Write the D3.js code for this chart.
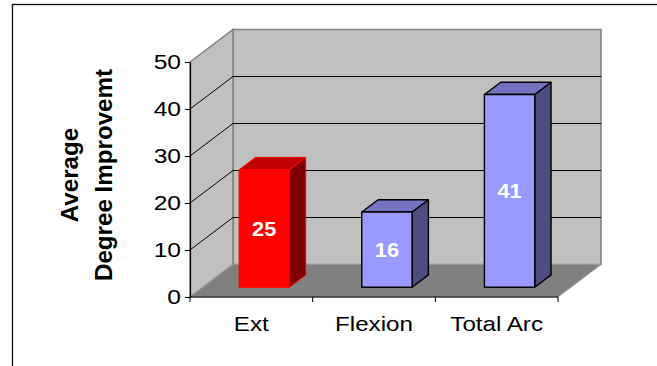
<!DOCTYPE html>
<html>
<head>
<meta charset="utf-8">
<script src="https://cdn.jsdelivr.net/npm/d3@7"></script>
<style>
  html, body { margin: 0; padding: 0; background: #fff; }
  svg { display: block; }
  text { font-family: "Liberation Sans", Arial, sans-serif; }
</style>
</head>
<body>
<svg id="chart" width="657" height="366"></svg>
<script>
// Chart data
const categories = ["Ext", "Flexion", "Total Arc"];
const values = [25, 16, 41];
const yTicks = [0, 10, 20, 30, 40, 50];
const titleLines = ["Average", "Degree Improvemt"];

// Face colours per bar: [front, top, side, outline]
const barFaces = [
  ["#ff0000", "#c00000", "#800000", "#ff0000"],
  ["#9999ff", "#7373bf", "#4d4d80", "#000000"],
  ["#9999ff", "#7373bf", "#4d4d80", "#000000"]
];

const svg = d3.select("#chart");

// Front plane of the plot and the depth of the 3-D box
const plot = { left: 190, right: 558, top: 62, bottom: 297 };
const DX = 43, DY = 32.5;

const x = d3.scaleBand().domain(categories).range([plot.left, plot.right]).padding(0);
const y = d3.scaleLinear().domain([0, 50]).range([plot.bottom, plot.top]);

// Oblique projection: z = 0 is the front plane, z = 1 the back wall
const PX = (px, z) => px + z * DX;
const PY = (v, z) => y(v) - z * DY;
const pts = arr => arr.map(p => p.join(",")).join(" ");

// Outer chart frame
svg.append("rect")
  .attr("x", 12.5).attr("y", 4.5)
  .attr("width", 700).attr("height", 400)
  .attr("fill", "none").attr("stroke", "#111").attr("stroke-width", 1.3);

const yMax = y.domain()[1], yMin = y.domain()[0];

// Back wall
svg.append("polygon")
  .attr("points", pts([
    [PX(plot.left, 1), PY(yMax, 1)], [PX(plot.right, 1), PY(yMax, 1)],
    [PX(plot.right, 1), PY(yMin, 1)], [PX(plot.left, 1), PY(yMin, 1)]
  ]))
  .attr("fill", "#c0c0c0").attr("stroke", "#808080").attr("stroke-width", 1.5);

// Side wall
svg.append("polygon")
  .attr("points", pts([
    [plot.left, PY(yMax, 0)], [PX(plot.left, 1), PY(yMax, 1)],
    [PX(plot.left, 1), PY(yMin, 1)], [plot.left, PY(yMin, 0)]
  ]))
  .attr("fill", "#c0c0c0").attr("stroke", "#808080").attr("stroke-width", 1.5);

// Floor
svg.append("polygon")
  .attr("points", pts([
    [plot.left, PY(yMin, 0)], [plot.right, PY(yMin, 0)],
    [PX(plot.right, 1), PY(yMin, 1)], [PX(plot.left, 1), PY(yMin, 1)]
  ]))
  .attr("fill", "#808080").attr("stroke", "#9a9a9a").attr("stroke-width", 1);

// Gridlines wrapping side wall and back wall
svg.append("g").selectAll("polyline")
  .data(yTicks.filter(t => t > yMin && t < yMax))
  .join("polyline")
  .attr("points", t => pts([
    [plot.left, PY(t, 0)], [PX(plot.left, 1), PY(t, 1)], [PX(plot.right, 1), PY(t, 1)]
  ]))
  .attr("fill", "none").attr("stroke", "#000").attr("stroke-width", 1);

// Bars
const z0 = 0.3, z1 = 0.68;
const barW = x.bandwidth() * 0.41;
const bars = svg.append("g").selectAll("g")
  .data(categories.map((c, i) => ({ c, v: values[i], f: barFaces[i] })))
  .join("g");

bars.each(function (d) {
  const g = d3.select(this);
  const xl = x(d.c) + (x.bandwidth() - barW) / 2;
  const xr = xl + barW;
  const sw = d.f[3] === "#000000" ? 1.4 : 1;
  // side
  g.append("polygon")
    .attr("points", pts([
      [PX(xr, z0), PY(d.v, z0)], [PX(xr, z1), PY(d.v, z1)],
      [PX(xr, z1), PY(0, z1)], [PX(xr, z0), PY(0, z0)]
    ]))
    .attr("fill", d.f[2]).attr("stroke", d.f[3]).attr("stroke-width", sw)
    .attr("stroke-linejoin", "round");
  // top
  g.append("polygon")
    .attr("points", pts([
      [PX(xl, z0), PY(d.v, z0)], [PX(xr, z0), PY(d.v, z0)],
      [PX(xr, z1), PY(d.v, z1)], [PX(xl, z1), PY(d.v, z1)]
    ]))
    .attr("fill", d.f[1]).attr("stroke", d.f[3]).attr("stroke-width", sw)
    .attr("stroke-linejoin", "round");
  // front
  g.append("polygon")
    .attr("points", pts([
      [PX(xl, z0), PY(d.v, z0)], [PX(xr, z0), PY(d.v, z0)],
      [PX(xr, z0), PY(0, z0)], [PX(xl, z0), PY(0, z0)]
    ]))
    .attr("fill", d.f[0]).attr("stroke", d.f[3]).attr("stroke-width", sw)
    .attr("stroke-linejoin", "round");
  // value label
  g.append("text")
    .attr("transform", `translate(${PX((xl + xr) / 2, z0)},${(PY(d.v, z0) + PY(0, z0)) / 2}) scale(1.12,1)`)
    .attr("text-anchor", "middle")
    .attr("dy", "0.36em")
    .attr("fill", "#fff")
    .attr("font-weight", "bold")
    .attr("font-size", 19.5)
    .text(d.v);
});

// Value axis
const yAxis = svg.append("g")
  .attr("transform", `translate(${plot.left},0)`)
  .call(d3.axisLeft(y).tickValues(yTicks).tickSize(5).tickSizeOuter(0).tickPadding(4));
yAxis.select(".domain").attr("stroke", "#000").attr("stroke-width", 1.2);
yAxis.selectAll(".tick line").attr("stroke", "#000");
yAxis.selectAll(".tick text")
  .attr("font-family", "Liberation Sans, Arial, sans-serif")
  .attr("font-size", 20.5)
  .attr("fill", "#000")
  .attr("x", -9 / 1.2)
  .attr("transform", "scale(1.2,1)");

// Category axis: baseline, boundary ticks and labels
const xAxis = svg.append("g");
xAxis.append("line")
  .attr("x1", plot.left).attr("x2", plot.right)
  .attr("y1", plot.bottom).attr("y2", plot.bottom)
  .attr("stroke", "#000").attr("stroke-width", 1.2);
const edges = categories.map(c => x(c)).concat([x(categories[categories.length - 1]) + x.bandwidth()]);
xAxis.selectAll("line.tk").data(edges).join("line")
  .attr("class", "tk")
  .attr("x1", d => d).attr("x2", d => d)
  .attr("y1", plot.bottom).attr("y2", plot.bottom + 5)
  .attr("stroke", "#000");
xAxis.selectAll("text").data(categories).join("text")
  .attr("transform", d => `translate(${x(d) + x.bandwidth() / 2},330.5) scale(1.18,1)`)
  .attr("text-anchor", "middle")
  .attr("font-size", 20.5)
  .attr("fill", "#000")
  .text(d => d);

// Value axis title, two rotated lines
const titleX = [77.5, 111.5];
svg.append("g").selectAll("text").data(titleLines).join("text")
  .attr("transform", (d, i) => `translate(${titleX[i]},175) rotate(-90) scale(1.05,1)`)
  .attr("text-anchor", "middle")
  .attr("font-weight", "bold")
  .attr("font-size", 23)
  .attr("fill", "#000")
  .text(d => d);
</script>
</body>
</html>
